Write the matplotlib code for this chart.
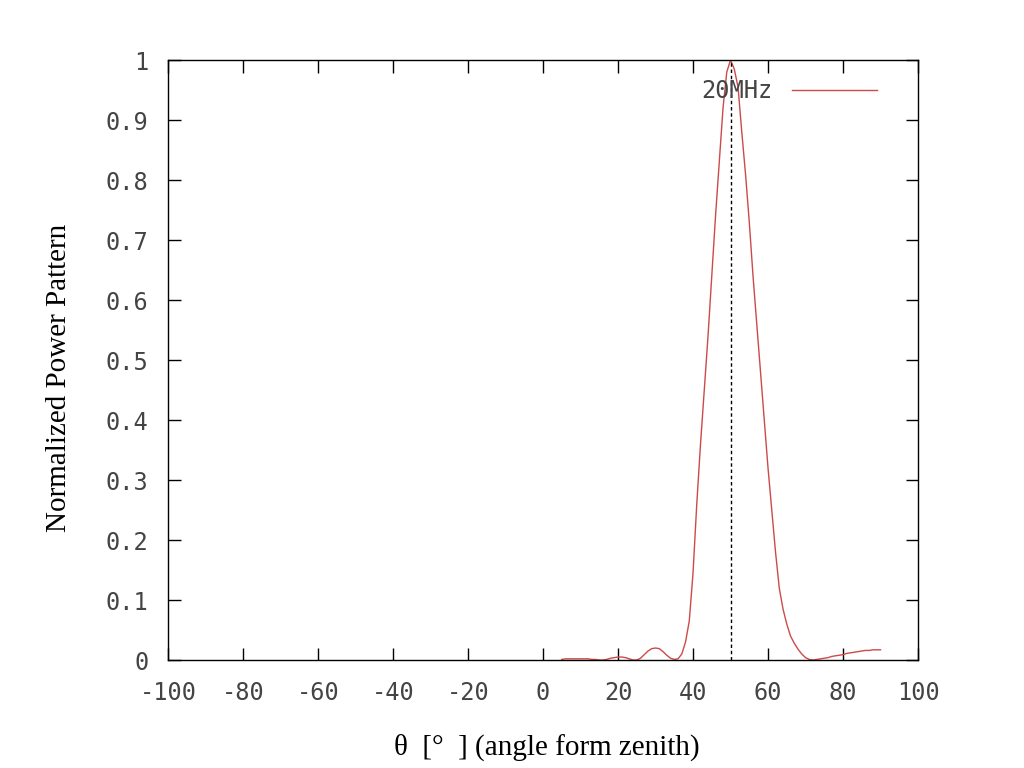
import matplotlib.pyplot as plt
import numpy as np

# normalized power pattern (20 MHz)
theta = [5, 6, 7, 8, 9, 10, 11, 12, 13, 14, 15, 16, 17, 18, 19, 20, 21, 22, 23, 24,
         25, 26, 27, 28, 29, 30, 31, 32, 33, 34, 35, 36, 37, 38, 39, 40, 41, 42, 43, 44,
         45, 46, 47, 48, 49, 50, 51, 52, 53, 54, 55, 56, 57, 58, 59, 60, 61, 62, 63, 64,
         65, 66, 67, 68, 69, 70, 71, 72, 73, 74, 75, 76, 77, 78, 79, 80, 81, 82, 83, 84,
         85, 86, 87, 88, 89, 90]
power = [0.001, 0.002, 0.002, 0.002, 0.002, 0.002, 0.002, 0.002, 0.001, 0.001,
         0.000, 0.000, 0.001, 0.003, 0.004, 0.005, 0.005, 0.004, 0.002, 0.000,
         0.000, 0.003, 0.009, 0.015, 0.019, 0.020, 0.019, 0.014, 0.008, 0.003,
         0.001, 0.002, 0.010, 0.030, 0.065, 0.145, 0.26, 0.36, 0.45, 0.54,
         0.64, 0.74, 0.83, 0.92, 0.98, 1.0, 0.985, 0.955, 0.88, 0.81,
         0.73, 0.64, 0.56, 0.48, 0.40, 0.32, 0.25, 0.18, 0.12, 0.085,
         0.06, 0.04, 0.028, 0.018, 0.010, 0.004, 0.001, 0.000, 0.001, 0.002,
         0.003, 0.004, 0.006, 0.007, 0.008, 0.009, 0.011, 0.012, 0.013, 0.014,
         0.015, 0.016, 0.016, 0.017, 0.017, 0.017]
peak_angle = 50

xticks = list(range(-100, 101, 20))
yticks = [0, 0.1, 0.2, 0.3, 0.4, 0.5, 0.6, 0.7, 0.8, 0.9, 1]
ytick_labels = ['0', '0.1', '0.2', '0.3', '0.4', '0.5', '0.6', '0.7', '0.8', '0.9', '1']

mono = 'DejaVu Sans Mono'
serif = 'Liberation Serif'
tick_col = '#444444'

fig = plt.figure(figsize=(10.24, 7.68), dpi=100)
ax = fig.add_axes([0.1641, 0.1406, 0.7324, 0.78125])

ax.plot(theta, power, color='#cc4a4a', lw=1.0, label='20MHz')
ax.plot([peak_angle, peak_angle], [0, 1], color='black', lw=1.0, ls=(0, (2.5, 2)))

ax.set_xlim(-100, 100)
ax.set_ylim(0, 1)
ax.set_xticks(xticks)
ax.set_xticklabels([str(t) for t in xticks])
ax.set_yticks(yticks)
ax.set_yticklabels(ytick_labels)
ax.tick_params(direction='in', length=9, width=1.0, top=True, right=True,
               colors='black', labelcolor=tick_col)
ax.tick_params(axis='x', pad=15)
ax.tick_params(axis='y', pad=14)
for lab in ax.get_xticklabels() + ax.get_yticklabels():
    lab.set_family(mono)
    lab.set_fontsize(17)

for s in ax.spines.values():
    s.set_linewidth(1.0)

ax.set_xlabel('θ  [°  ] (angle form zenith)', family=serif, fontsize=21)
ax.set_ylabel('Normalized Power Pattern', family=serif, fontsize=21)
ax.xaxis.set_label_coords(0.505, -0.122)
ax.yaxis.set_label_coords(-0.128, 0.47)

leg = ax.legend(loc='upper right', frameon=False, markerfirst=False,
                handlelength=3.6, prop={'family': mono, 'size': 17},
                borderaxespad=0.4, bbox_to_anchor=(0.97, 1.0))
for t in leg.get_texts():
    t.set_color(tick_col)

fig.savefig('out.png', dpi=100)
